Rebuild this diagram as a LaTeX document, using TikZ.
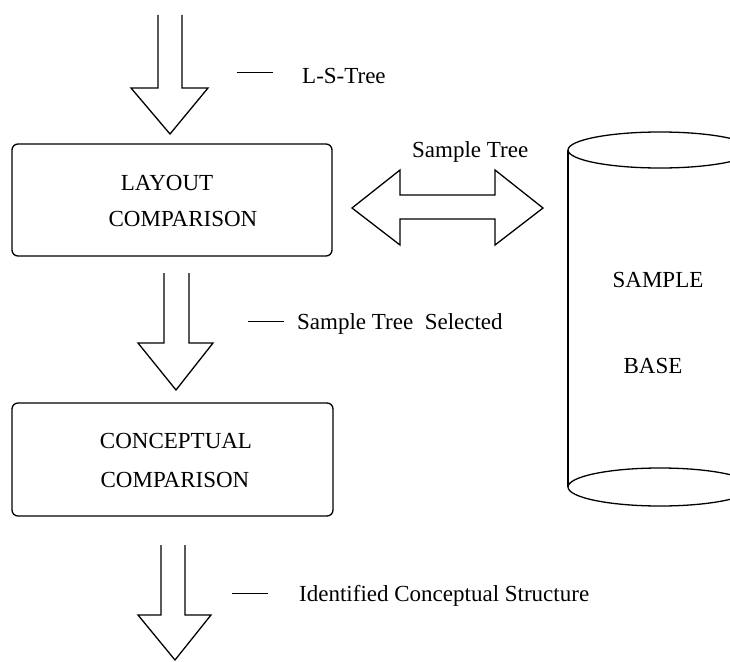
\documentclass[tikz,border=0pt]{standalone}
\usepackage{fontspec}
\setmainfont{Liberation Serif}
\begin{document}
\begin{tikzpicture}[x=1pt,y=-1pt,
  outline/.style={draw=black,line width=1.3pt,line join=miter},
  procbox/.style={draw=black,line width=1.3pt,rounded corners=6pt},
  txt/.style={font=\fontsize{23}{28}\selectfont,inner sep=0pt,anchor=base},
  lbl/.style={font=\fontsize{23}{28}\selectfont,inner sep=0pt,anchor=base west}]
\useasboundingbox (0,0) rectangle (730,661);

% processing boxes
\draw[procbox] (12,144) rectangle (332,256);
\node[coordinate] (layout) at (172,200) {};
\node[txt] (layoutA) at (167,190) {LAYOUT};
\node[txt] (layoutB) at (183,226) {COMPARISON};

\draw[procbox] (12,403) rectangle (333,516);
\node[coordinate] (concept) at (172,460) {};
\node[txt] (conceptA) at (176,448) {CONCEPTUAL};
\node[txt] (conceptB) at (175,487) {COMPARISON};

% sample base cylinder (right wall runs past the page edge)
\draw[outline] (660,150) ellipse [x radius=92, y radius=18];
\draw[outline] (660,487) ellipse [x radius=92, y radius=19];
\draw[outline] (568,150) -- (568,487);
\draw[outline] (752,150) -- (752,487);
\node[txt] (baseA) at (658,287) {SAMPLE};
\node[txt] (baseB) at (653,373) {BASE};

% input arrow
\draw[outline] (158,15) -- (158,88) -- (131,88) -- (170,134) -- (208,88) -- (182,88) -- (182,15);
\draw[line width=1pt] (237,72) -- (273,72);
\node[lbl] (lstree) at (302,83) {L-S-Tree};

% arrow between the comparisons
\draw[outline] (164,273) -- (164,343) -- (138,343) -- (176,390) -- (213,343) -- (189,343) -- (189,273);
\draw[line width=1pt] (248,321) -- (284,321);
\node[lbl] (selected) at (297,329) {Sample Tree\ \ Selected};

% output arrow
\draw[outline] (161,545) -- (161,615) -- (138,615) -- (175,660) -- (211,615) -- (185,615) -- (185,545);
\draw[line width=1pt] (232,593) -- (268,593);
\node[lbl] (identified) at (299,601) {Identified Conceptual Structure};

% exchange with the sample base
\draw[outline] (352,208) -- (400,170) -- (400,195) -- (495,195) -- (495,170) -- (543,208)
  -- (495,245) -- (495,219) -- (400,219) -- (400,245) -- cycle;
\node[lbl] (exchange) at (412,157) {Sample Tree};
\end{tikzpicture}
\end{document}
